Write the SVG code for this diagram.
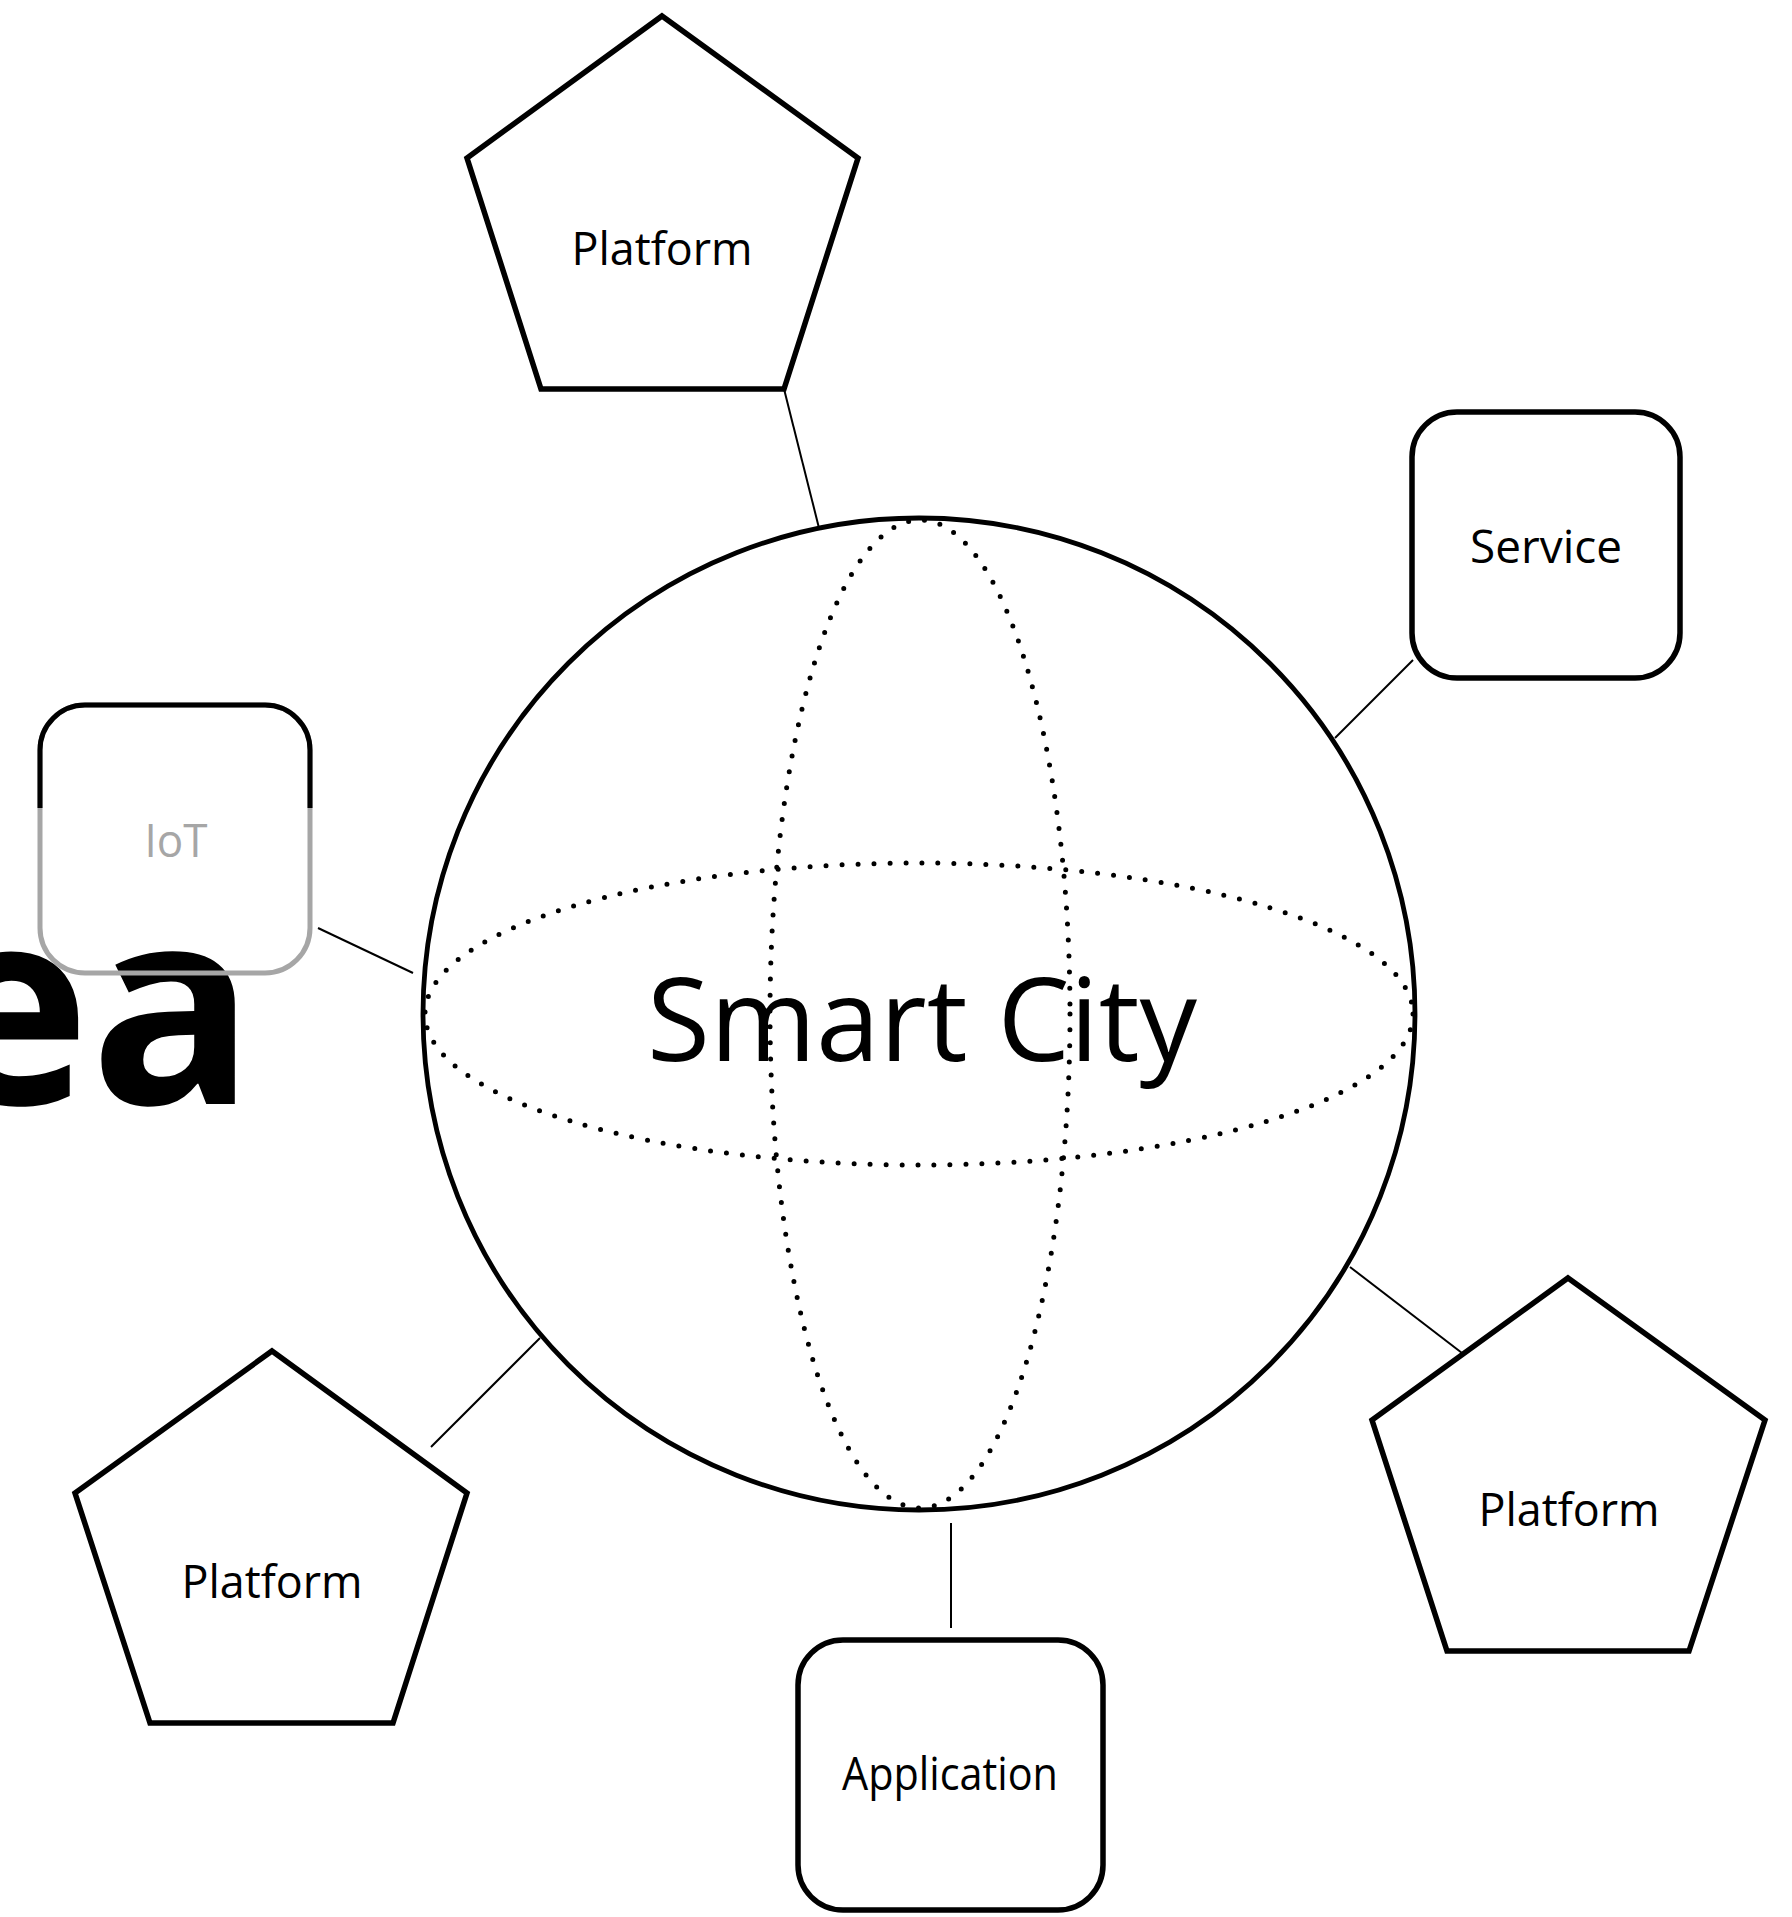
<svg xmlns="http://www.w3.org/2000/svg" width="1792" height="1917" viewBox="0 0 1792 1917">
<style>
.shape{fill:none;stroke:#000;stroke-width:5.5;stroke-linejoin:miter}
.lbl{font-family:"Open Sans","Liberation Sans",sans-serif;font-size:46px;fill:#000;text-anchor:middle}
.conn{stroke:#000;stroke-width:2;fill:none}
.dots{fill:none;stroke:#000;stroke-width:5;stroke-linecap:round;stroke-dasharray:0 16}
</style>
<defs>
<clipPath id="topHalf"><rect x="0" y="0" width="400" height="808"/></clipPath>
</defs>
<rect width="1792" height="1917" fill="#fff"/>
<text id="title-fragment" x="-72" y="1104" font-family="'Open Sans','Liberation Sans',sans-serif" font-weight="bold" font-size="274" fill="#000">ea</text>
<g id="connectors">
<line class="conn" x1="784" y1="389" x2="819" y2="528"/>
<line class="conn" x1="1413" y1="660" x2="1335" y2="738"/>
<line class="conn" x1="318" y1="928" x2="413" y2="973"/>
<line class="conn" x1="1350" y1="1267" x2="1462" y2="1353"/>
<line class="conn" x1="431" y1="1447" x2="540" y2="1338"/>
<line class="conn" x1="951" y1="1523" x2="951" y2="1628"/>
</g>
<g id="smart-city">
<circle cx="919" cy="1014" r="496" fill="none" stroke="#000" stroke-width="4.8"/>
<ellipse class="dots" cx="919" cy="1014" rx="494" ry="151"/>
<ellipse class="dots" cx="920" cy="1014" rx="150" ry="494"/>
<text x="922" y="1061" font-family="'Open Sans','Liberation Sans',sans-serif" font-size="116" text-anchor="middle" textLength="550" lengthAdjust="spacingAndGlyphs" fill="#000">Smart City</text>
</g>
<g id="platform-top">
<polygon class="shape" points="662,16 858,158 784,389 541,389 467,158"/>
<text class="lbl" x="662" y="265" textLength="181" lengthAdjust="spacingAndGlyphs">Platform</text>
</g>
<g id="service">
<rect class="shape" x="1412" y="412" width="268" height="266" rx="45"/>
<text class="lbl" x="1546" y="563" textLength="152" lengthAdjust="spacingAndGlyphs">Service</text>
</g>
<g id="iot">
<rect x="40" y="705" width="270" height="268" rx="45" fill="none" stroke="#a6a6a6" stroke-width="5"/>
<rect x="40" y="705" width="270" height="268" rx="45" fill="none" stroke="#000" stroke-width="5" clip-path="url(#topHalf)"/>
<text class="lbl" x="176" y="857" style="fill:#a6a6a6" textLength="63" lengthAdjust="spacingAndGlyphs">IoT</text>
</g>
<g id="platform-right">
<polygon class="shape" points="1568,1278 1765,1420 1689,1651 1447,1651 1372,1420"/>
<text class="lbl" x="1569" y="1526" textLength="181" lengthAdjust="spacingAndGlyphs">Platform</text>
</g>
<g id="platform-left">
<polygon class="shape" points="272,1351 467,1493 393,1723 150,1723 75,1493"/>
<text class="lbl" x="272" y="1598" textLength="181" lengthAdjust="spacingAndGlyphs">Platform</text>
</g>
<g id="application">
<rect class="shape" x="798" y="1640" width="305" height="270" rx="45"/>
<text class="lbl" x="950" y="1790" textLength="216" lengthAdjust="spacingAndGlyphs">Application</text>
</g>
</svg>
